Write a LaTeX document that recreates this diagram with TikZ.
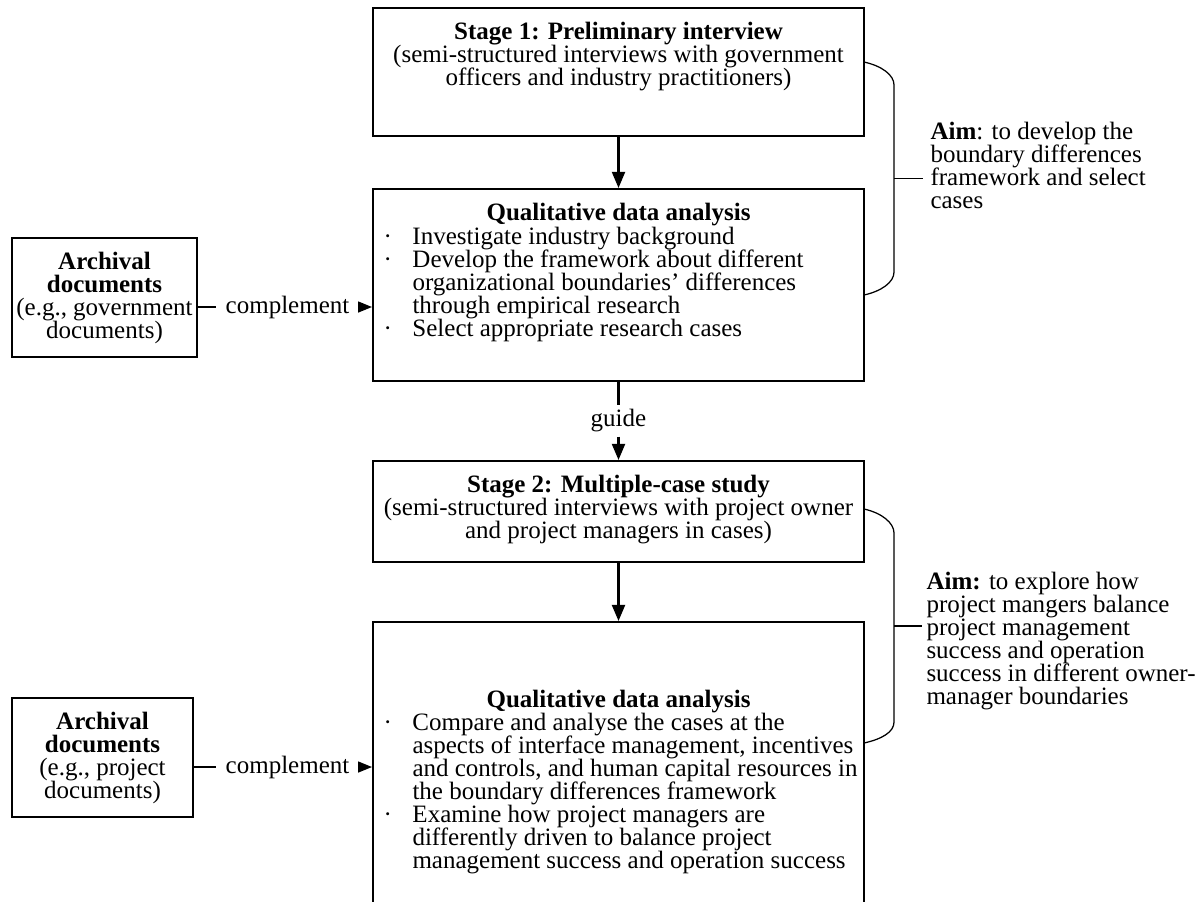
\documentclass[tikz,border=0pt]{standalone}
\usepackage{fontspec}
\setmainfont{Liberation Serif}
\usetikzlibrary{arrows.meta,fit}
% list helpers: a middle-dot bullet and the matching hanging indent
\newcommand\itemdot{\makebox[11.6pt][l]{·}}
\newcommand\itemgap{\hspace*{11.6pt}}
\begin{document}
\setlength{\lineskiplimit}{-5pt}
\begin{tikzpicture}[x=0.4pt,y=-0.4pt,
  every node/.style={font=\fontsize{10pt}{9.2pt}\selectfont},
  box/.style={draw, line width=0.8pt, inner sep=0pt},
  ctext/.style={align=center, inner sep=0pt, anchor=north},
  ltext/.style={align=left, inner sep=0pt, anchor=north west},
  comp/.style={inner xsep=3.8pt, inner ysep=0pt},
  arr/.style={line width=1pt, -{Triangle[length=6.5pt,width=5.2pt]}},
  carr/.style={line width=0.6pt, -{Triangle[length=5.6pt,width=4.4pt]}},
  brace/.style={line width=0.5pt},
]
\useasboundingbox (0,0) rectangle (1203,901);

% ---- main column boxes ----
\node[box, fit={(373,8) (864,136)}] (s1) {};
\node[box, fit={(373,189) (864,381)}] (q1) {};
\node[box, fit={(373,461) (864,562)}] (s2) {};
\node[box, fit={(373,622) (864,960)}] (q2) {};

\node[ctext] (s1t) at (618.5,22) {\textbf{Stage 1: Preliminary interview}\\
  (semi-structured interviews with government\\
  officers and industry practitioners)};

\node[ctext] (q1h) at (618.5,203) {\textbf{Qualitative data analysis}};
\node[ltext] (q1l) at (383,227) {\itemdot Investigate industry background\\
  \itemdot Develop the framework about different\\
  \itemgap organizational boundaries' differences\\
  \itemgap through empirical research\\
  \itemdot Select appropriate research cases};

\node[ctext] (s2t) at (618.5,475) {\textbf{Stage 2: Multiple-case study}\\
  (semi-structured interviews with project owner\\
  and project managers in cases)};

\node[ctext] (q2h) at (618.5,690) {\textbf{Qualitative data analysis}};
\node[ltext] (q2l) at (383,713) {\itemdot Compare and analyse the cases at the\\
  \itemgap aspects of interface management, incentives\\
  \itemgap and controls, and human capital resources in\\
  \itemgap the boundary differences framework\\
  \itemdot Examine how project managers are\\
  \itemgap differently driven to balance project\\
  \itemgap management success and operation success};

% ---- archival document boxes ----
\node[box, fit={(12,238) (197,357)}] (a1) {};
\node[ctext] (a1t) at (104.5,252) {\textbf{Archival}\\\textbf{documents}\\
  (e.g., government\\documents)};
\node[box, fit={(12,698) (193,817)}] (a2) {};
\node[ctext] (a2t) at (102.5,712) {\textbf{Archival}\\\textbf{documents}\\
  (e.g., project\\documents)};

% ---- "complement" links ----
\node[comp] (c1) at (287.5,307) {complement};
\draw[line width=0.6pt] (a1.east |- c1.west) -- (c1.west);
\draw[carr] (c1.east) -- (q1.west |- c1.east);
\node[comp] (c2) at (287.5,767) {complement};
\draw[line width=0.6pt] (a2.east |- c2.west) -- (c2.west);
\draw[carr] (c2.east) -- (q2.west |- c2.east);

% ---- vertical flow ----
\draw[arr] (s1.south) -- (q1.north);
\node[inner xsep=0pt, inner ysep=1.5pt] (g) at (618.5,421) {guide};
\draw[line width=1pt] (q1.south) -- (g.north);
\draw[arr] (g.south) -- (s2.north);
\draw[arr] (s2.south) -- (q2.north);

% ---- aims with brackets ----
\node[ltext] (aim1) at (930,122) {\textbf{Aim}: to develop the\\
  boundary differences\\framework and select\\cases};
\coordinate (b1a) at (864,62);
\coordinate (b1b) at (864,295);
\coordinate (b1m) at (894,178.5);
\coordinate (b1e) at (923,178.5);
\draw[brace] (b1a) .. controls (882,66) and (894,75) .. (894,85) -- (894,272)
  .. controls (894,282) and (882,291) .. (b1b);
\draw[brace] (b1m) -- (b1e);

\node[ltext] (aim2) at (926,572) {\textbf{Aim:} to explore how\\
  project mangers balance\\project management\\success and operation\\
  success in different owner-\\manager boundaries};
\coordinate (b2a) at (864,509);
\coordinate (b2b) at (864,743);
\coordinate (b2m) at (894,626);
\coordinate (b2e) at (922,626);
\draw[brace] (b2a) .. controls (882,513) and (894,523) .. (894,533) -- (894,722)
  .. controls (894,732) and (882,739) .. (b2b);
\draw[brace] (b2m) -- (b2e);
\end{tikzpicture}
\end{document}
